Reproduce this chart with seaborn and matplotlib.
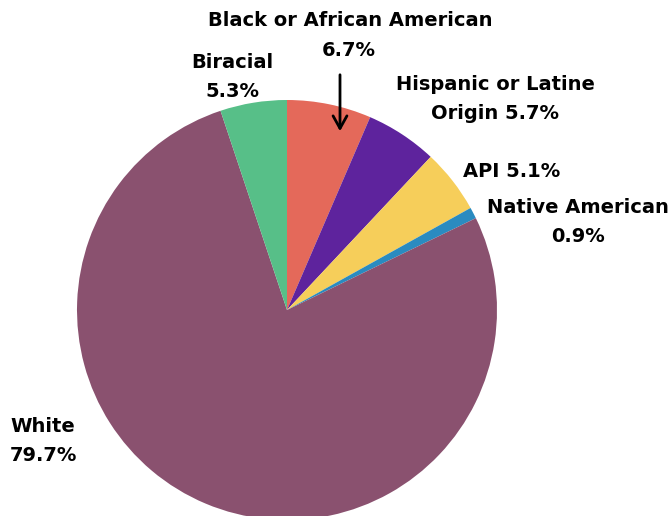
import matplotlib
matplotlib.use("Agg")
import matplotlib.pyplot as plt
import seaborn as sns

# Race / ethnicity breakdown (percent)
groups = ["Black or African American", "Hispanic or Latine Origin", "API",
          "Native American", "White", "Biracial"]
shares = [6.7, 5.7, 5.1, 0.9, 79.7, 5.3]
colors = ["#E4695A", "#5E239D", "#F6CE5A", "#2A8BC0", "#8A516F", "#57BF88"]

sns.set_theme(style="white")
plt.rcParams["font.family"] = ["DejaVu Sans"]

W, H = 672, 516
fig = plt.figure(figsize=(W / 100, H / 100), dpi=100)
fig.patch.set_facecolor("white")

# Square axes in pixel units: centre (287, 310 from top), radius 210 px
cx, cy, r = 287, H - 310, 210
ax = fig.add_axes([(cx - r) / W, (cy - r) / H, 2 * r / W, 2 * r / H])
ax.pie(shares, colors=colors, startangle=90, counterclock=False, radius=1,
       wedgeprops=dict(linewidth=0))
ax.set_xlim(-1, 1)
ax.set_ylim(-1, 1)
ax.set_aspect("auto")
ax.axis("off")

fs = 14
kw = dict(fontsize=fs, fontweight="bold", color="#000000", ha="center",
          va="center", linespacing=1.62)


def label(x, y, s, **extra):
    opts = dict(kw)
    opts.update(extra)
    fig.text(x / W, 1 - y / H, s, **opts)


# The long heading is set as two separate lines so its narrow second line
# keeps clear of the Biracial label
label(350, 21, "Black or African American")
label(349, 50, f"{shares[0]}%")
label(495, 99, f"Hispanic or Latine\nOrigin {shares[1]}%")
label(512, 172, f"API {shares[2]}%")
label(578, 222, f"Native American\n{shares[3]}%")
label(10, 441, f"White\n{shares[4]}%", ha="left", multialignment="left")
label(232, 77, f"Biracial\n{shares[5]}%")

# Arrow pointing down into the Black or African American slice
fig.add_artist(matplotlib.patches.FancyArrowPatch(
    (340 / W, 1 - 72 / H), (340 / W, 1 - 134 / H),
    transform=fig.transFigure, arrowstyle="->,head_length=9,head_width=5",
    mutation_scale=1, linewidth=2, color="#000000"))

fig.savefig("out.png", dpi=100)
